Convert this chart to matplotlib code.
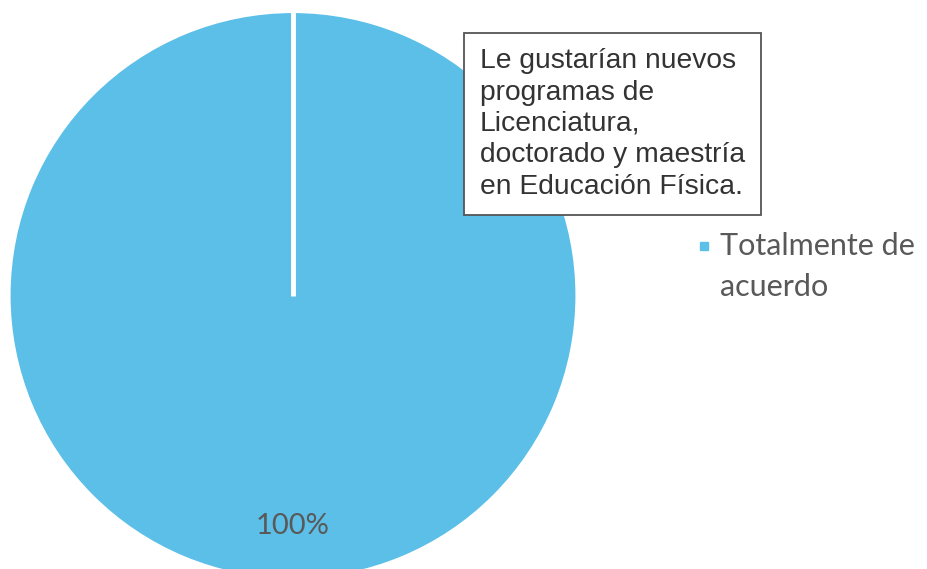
import numpy as np
import matplotlib.pyplot as plt
from matplotlib.patches import Rectangle

labels = ["Totalmente de\nacuerdo"]
values = [100]
colors = ["#5BBFE8"]
title_box = "Le gustarían nuevos\nprogramas de\nLicenciatura,\ndoctorado y maestría\nen Educación Física."

fig = plt.figure(figsize=(9.28, 5.69), dpi=100)
W, H = 928, 569
# pie axes placed in pixels (square), bottom runs past the figure
ax = fig.add_axes([8.5 / W, (H - 580) / H, 569 / W, 569 / H])
wedges, texts, autotexts = ax.pie(
    values, colors=colors, startangle=90, counterclock=False,
    autopct="%1.0f%%", pctdistance=0.81, radius=1,
    wedgeprops=dict(edgecolor="white", linewidth=3),
    textprops=dict(color="#595959", fontsize=21, family="Lato"))
# full circle wedge has no radial edge, draw the slice border
for w in wedges:
    a = np.deg2rad(w.theta2)
    cx, cy = w.center
    ax.plot([cx, cx + w.r * np.cos(a)], [cy, cy + w.r * np.sin(a)],
            color="white", lw=3.5, solid_capstyle="butt")
ax.set_xlim(-1, 1)
ax.set_ylim(-1, 1)
ax.axis("off")

# legend (marker beside first line)
for i, (lab, c) in enumerate(zip(labels, colors)):
    fig.patches.append(Rectangle((700 / W, 1 - 250 / H), 8 / W, 8 / H,
                                 transform=fig.transFigure, color=c))
    fig.text(720 / W, 1 - 232 / H, lab, ha="left", va="top",
             fontsize=22, family="Lato", color="#595959", linespacing=1.55)

fig.text(480 / W, 1 - 124 / H, title_box, ha="left", va="center",
         fontsize=20.3, family="Liberation Sans", color="#333333",
         linespacing=1.27,
         bbox=dict(boxstyle="square,pad=0.55", facecolor="white",
                   edgecolor="#555555", linewidth=1.3))

fig.savefig("out.png", dpi=100)
